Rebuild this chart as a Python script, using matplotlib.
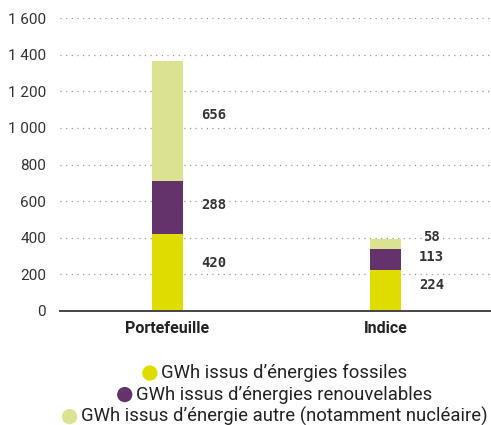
# stacked bars: energy origin (GWh) for the portfolio vs the index
import matplotlib
matplotlib.use("Agg")
import matplotlib.pyplot as plt
from matplotlib.ticker import FuncFormatter, MultipleLocator
from matplotlib.offsetbox import (AnchoredOffsetbox, DrawingArea, HPacker,
                                  TextArea, VPacker)
from matplotlib.patches import Circle

categories = ["Portefeuille", "Indice"]
fossiles = [420, 224]
renouvelables = [288, 113]
autre = [656, 58]
series_labels = [
    "GWh issus d\u2019\u00e9nergies fossiles",
    "GWh issus d\u2019\u00e9nergies renouvelables",
    "GWh issus d\u2019\u00e9nergie autre (notamment nucl\u00e9aire)",
]
colors = ["#dedc00", "#65336b", "#dbe393"]

# where the value labels sit (in data units)
label_y = [[262, 579, 1071], [142, 295, 404]]

plt.rcParams["font.family"] = ["Roboto", "DejaVu Sans"]

fig = plt.figure(figsize=(4.91, 4.25), dpi=100)
ax = fig.add_axes([60 / 491, 1 - 311 / 425, 431 / 491, 293 / 425])

x = list(range(len(categories)))
width = 0.142
bottom = [0] * len(categories)
for values, color in zip([fossiles, renouvelables, autre], colors):
    ax.bar(x, values, width, bottom=bottom, color=color, zorder=3)
    bottom = [b + v for b, v in zip(bottom, values)]

# value labels to the right of each bar
for i in x:
    for j, values in enumerate([fossiles, renouvelables, autre]):
        ax.text(i + 0.212, label_y[i][j], str(values[i]), ha="center",
                va="center", fontsize=10, fontweight="bold",
                family="DejaVu Sans Mono", color="#333333")

ax.set_xlim(-0.493, 1.484)
ax.set_ylim(0, 1600)
ax.yaxis.set_major_locator(MultipleLocator(200))
ax.yaxis.set_major_formatter(
    FuncFormatter(lambda v, p: f"{v:,.0f}".replace(",", " ")))
ax.set_xticks(x)
ax.set_xticklabels(categories, fontweight="bold", fontsize=11.5)
ax.tick_params(axis="y", length=0, pad=10, labelsize=11, labelcolor="#333333")
ax.tick_params(axis="x", length=0, pad=7, labelcolor="#222222")

for y in range(200, 1601, 200):
    ax.axhline(y, color="#999999", linestyle=(0, (1, 3.5)), linewidth=0.9,
               zorder=1)
for side in ["top", "right", "left"]:
    ax.spines[side].set_visible(False)
ax.spines["bottom"].set_color("#444444")
ax.spines["bottom"].set_linewidth(1.4)
ax.spines["bottom"].set_zorder(4)

# centred legend, one entry per line
rows = []
for label, color in zip(series_labels, colors):
    da = DrawingArea(10, 10, 0, 0)
    da.add_artist(Circle((5, 5), 5, color=color))
    ta = TextArea(label, textprops=dict(fontsize=13.3, color="#222222"))
    rows.append(HPacker(children=[da, ta], align="center", pad=0, sep=3))
box = VPacker(children=rows, align="center", pad=0, sep=2.5)
anchored = AnchoredOffsetbox(loc="upper center", child=box, frameon=False,
                             bbox_to_anchor=(0.56, 1 - 364 / 425),
                             bbox_transform=fig.transFigure, pad=0,
                             borderpad=0)
fig.add_artist(anchored)

fig.savefig("out.png", dpi=100)
